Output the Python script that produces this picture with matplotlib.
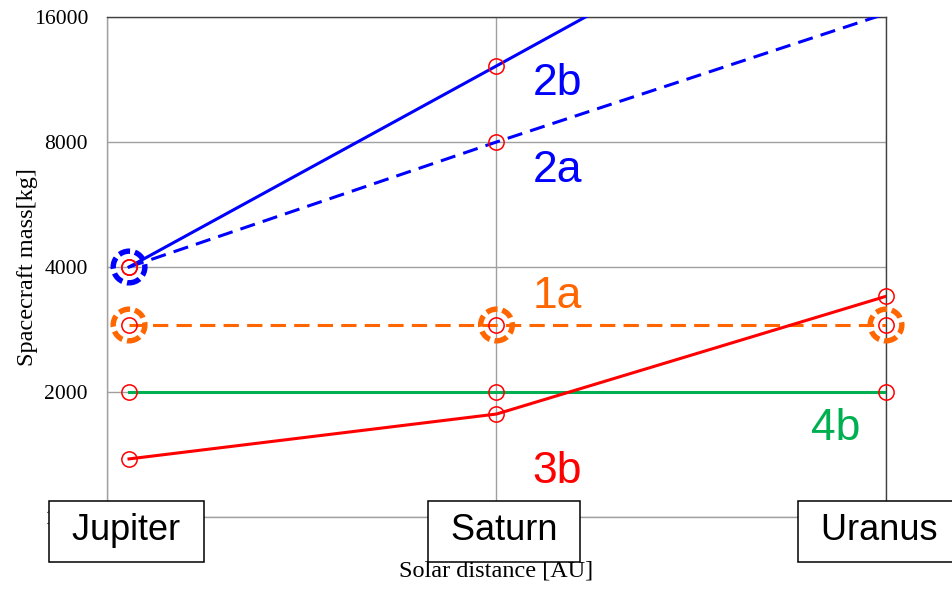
import matplotlib
matplotlib.use("Agg")
import matplotlib.pyplot as plt
from matplotlib.ticker import FixedLocator, NullLocator, FixedFormatter

# solar distance [AU] as placed on the chart
planets = ["Jupiter", "Saturn", "Uranus"]
dist = [5.2, 10, 20]

# spacecraft mass [kg] per option
mass_2b = [4000, 12200, 40000]
mass_2a = [4000, 8000, 16300]
mass_1a = [2900, 2900, 2900]
mass_4b = [2000, 2000, 2000]
mass_3b = [1380, 1770, 3400]

yticks = [1000, 2000, 4000, 8000, 16000]
ytick_labels = ["1000", "2000", "4000", "8000", "16000"]

BLUE = "#0000FF"
ORANGE = "#FF6600"
GREEN = "#00B050"
RED = "#FF0000"

series = [
    ("2b", mass_2b, BLUE, "-"),
    ("2a", mass_2a, BLUE, (0, (5, 2.7))),
    ("1a", mass_1a, ORANGE, (0, (5, 2.7))),
    ("4b", mass_4b, GREEN, "-"),
    ("3b", mass_3b, RED, "-"),
]

fig = plt.figure(figsize=(9.53, 5.91), dpi=100)
ax = fig.add_axes([107 / 953, 1 - 517 / 591, 779 / 953, 500 / 591])

ax.set_xscale("log", base=2)
ax.set_yscale("log", base=2)
ax.set_xlim(5, 20)
ax.set_ylim(1000, 16000)

for name, vals, col, ls in series:
    ax.plot(dist, vals, color=col, lw=2.2, linestyle=ls, zorder=3)

# big dashed circles
ax.scatter([dist[0]], [mass_2a[0]], s=520, facecolors="none", edgecolors=BLUE,
           linewidths=3.9, linestyles=[(0, (2.1, 0.9))], zorder=4, clip_on=False)
ax.scatter(dist, mass_1a, s=520, facecolors="none", edgecolors=ORANGE,
           linewidths=3.9, linestyles=[(0, (2.1, 0.9))], zorder=4, clip_on=False)

# small red circles on every point inside the range
for name, vals, col, ls in series:
    px = [d for d, v in zip(dist, vals) if v <= 16000]
    py = [v for v in vals if v <= 16000]
    ax.plot(px, py, linestyle="none", marker="o", ms=11, mfc="none",
            mec=RED, mew=1.1, zorder=5, clip_on=False)

# series labels
label_pos = {"2b": (0.546, 0.844), "2a": (0.546, 0.670), "1a": (0.546, 0.418),
             "4b": (0.904, 0.154), "3b": (0.546, 0.068)}
for name, vals, col, ls in series:
    lx, ly = label_pos[name]
    ax.text(lx, ly, name, transform=ax.transAxes, color=col, fontsize=32,
            family="Liberation Sans", ha="left", va="baseline", zorder=6)

# axes styling
ax.xaxis.set_major_locator(FixedLocator([5, 10, 20]))
ax.xaxis.set_minor_locator(NullLocator())
ax.set_xticklabels([])
ax.yaxis.set_major_locator(FixedLocator(yticks))
ax.yaxis.set_major_formatter(FixedFormatter(ytick_labels))
ax.yaxis.set_minor_locator(NullLocator())
ax.tick_params(axis="both", length=0, pad=13.7, labelsize=15.6)
for lab in ax.get_yticklabels():
    lab.set_family("Liberation Serif")

ax.grid(True, color="#A0A0A0", lw=1.0, zorder=1)
ax.set_axisbelow(True)
ax.spines["left"].set_color("#A0A0A0")
ax.spines["bottom"].set_color("#A0A0A0")
ax.spines["top"].set_color("#404040")
ax.spines["right"].set_color("#404040")
for sp in ax.spines.values():
    sp.set_linewidth(1.0)

ax.set_xlabel("Solar distance [AU]", family="Liberation Serif", fontsize=17.5)
ax.set_ylabel("Spacecraft mass[kg]", family="Liberation Serif", fontsize=17.5)
ax.xaxis.set_label_coords(0.5, -0.088)
ax.yaxis.set_label_coords(-0.0886, 0.5)

# planet boxes
box_x = [0.025, 0.5096, 0.9917]
for bx, name in zip(box_x, planets):
    ax.text(bx, -0.028, " " + name + " ", transform=ax.transAxes,
            ha="center", va="center", fontsize=26, family="Liberation Sans",
            zorder=10, clip_on=False,
            bbox=dict(boxstyle="square,pad=0.36", fc="white", ec="black", lw=1.1))

plt.savefig("out.png", dpi=100)
